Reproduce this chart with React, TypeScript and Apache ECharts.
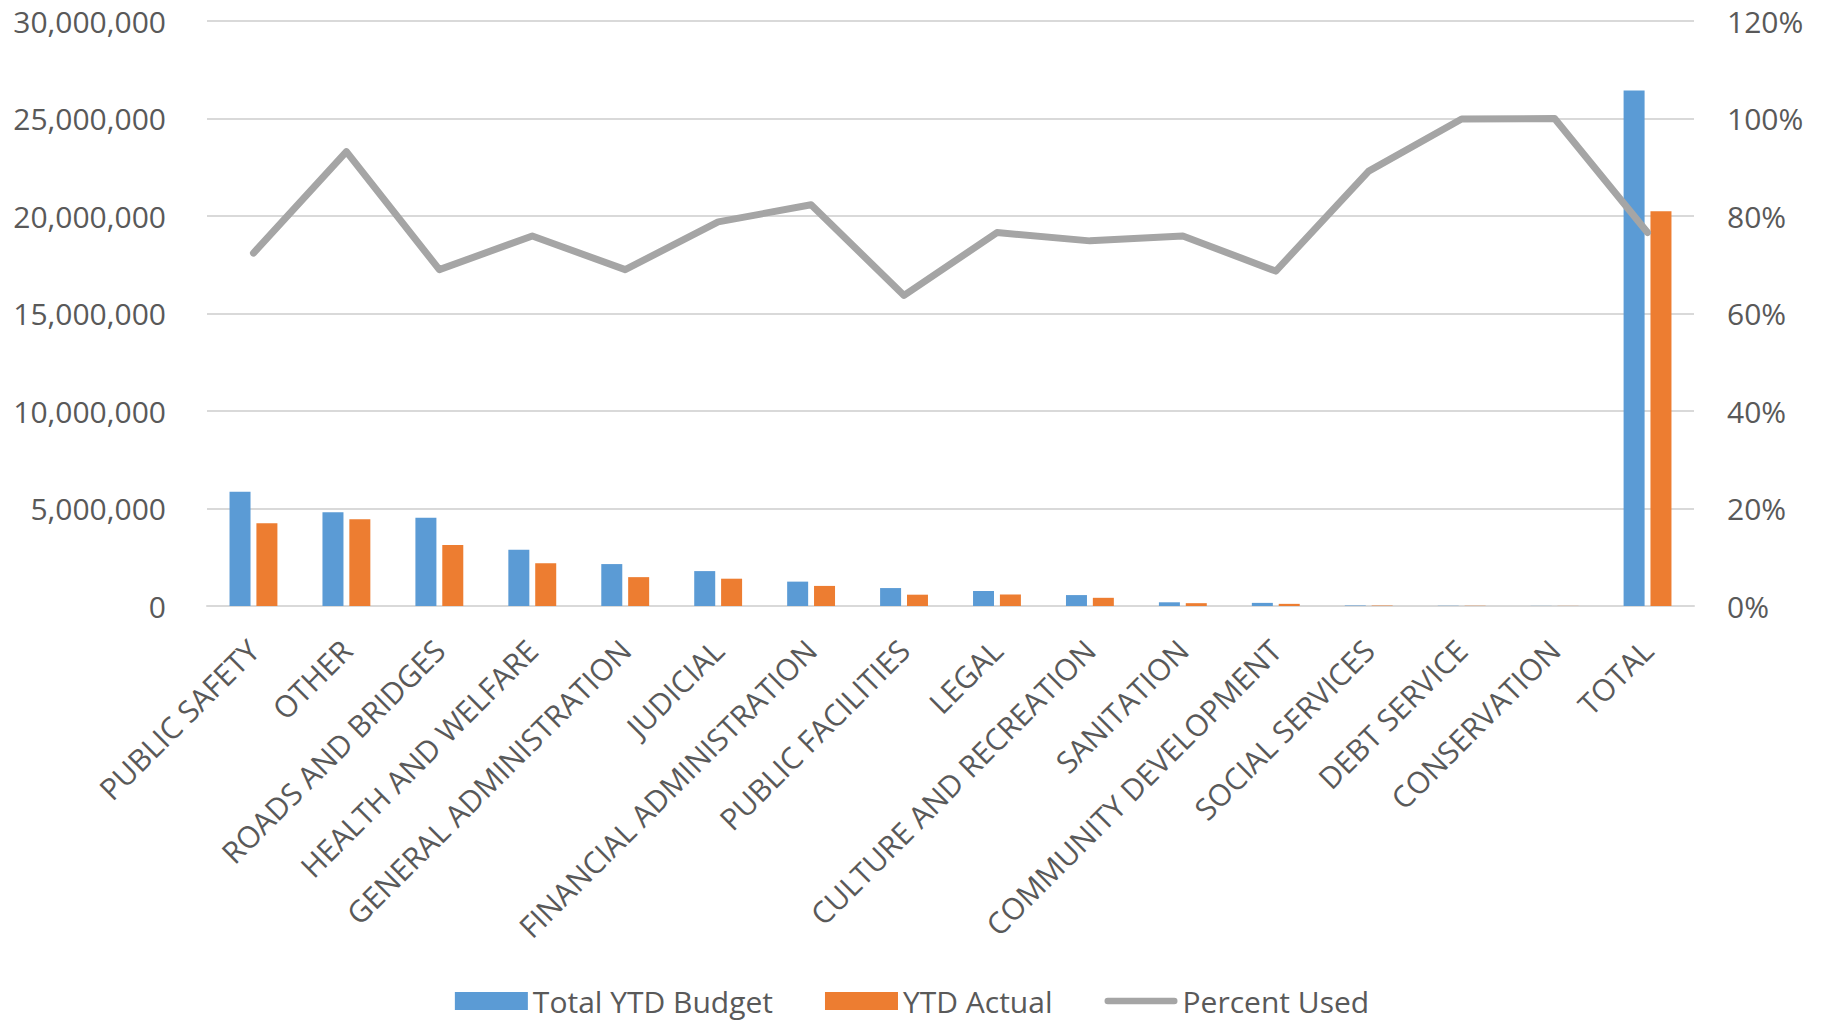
import React, { useEffect, useRef } from "react";
import * as echarts from "echarts";

const categories = [
  "PUBLIC SAFETY",
  "OTHER",
  "ROADS AND BRIDGES",
  "HEALTH AND WELFARE",
  "GENERAL ADMINISTRATION",
  "JUDICIAL",
  "FINANCIAL ADMINISTRATION",
  "PUBLIC FACILITIES",
  "LEGAL",
  "CULTURE AND RECREATION",
  "SANITATION",
  "COMMUNITY DEVELOPMENT",
  "SOCIAL SERVICES",
  "DEBT SERVICE",
  "CONSERVATION",
  "TOTAL",
];

const totalYtdBudget = [
  5860000, 4810000, 4530000, 2880000, 2150000, 1790000, 1250000, 920000,
  770000, 560000, 190000, 160000, 25000, 12000, 6000, 26430000,
];

const ytdActual = [
  4240000, 4450000, 3130000, 2190000, 1480000, 1400000, 1030000, 580000,
  590000, 420000, 145000, 110000, 22300, 12000, 6000, 20240000,
];

const percentUsed = [
  0.724, 0.932, 0.69, 0.759, 0.69, 0.788, 0.823, 0.637, 0.766, 0.749, 0.759,
  0.687, 0.892, 0.999, 1.0, 0.766,
];

const seriesNames = ["Total YTD Budget", "YTD Actual", "Percent Used"];

const FONT = "'Open Sans', 'Noto Sans', sans-serif";
const TEXT = "#595959";
const GRID = "#D9D9D9";
const LINE_ICON =
  "path://M3.5,0 H75.5 A3.5,3.5 0 0 1 75.5,7 H3.5 A3.5,3.5 0 0 1 3.5,0 Z";

export default function App() {
  const ref = useRef<HTMLDivElement>(null);

  useEffect(() => {
    if (!ref.current) return;
    const chart = echarts.init(ref.current, undefined, { renderer: "svg" });
    chart.setOption({
      animation: false,
      backgroundColor: "#ffffff",
      textStyle: { fontFamily: FONT },
      grid: { left: 207, right: 130, top: 21, bottom: 414, containLabel: false },
      legend: {
        data: [
          { name: seriesNames[0], icon: "rect" },
          { name: seriesNames[1], icon: "rect" },
          { name: seriesNames[2], icon: LINE_ICON },
        ],
        left: "center",
        top: 985,
        padding: 0,
        itemWidth: 73,
        itemHeight: 18,
        itemGap: 52,
        symbolKeepAspect: true,
        textStyle: { fontFamily: FONT, fontSize: 30, color: TEXT, lineHeight: 32 },
      },
      xAxis: {
        type: "category",
        data: categories,
        axisTick: { show: false },
        axisLine: { lineStyle: { color: GRID, width: 2 } },
        axisLabel: {
          interval: 0,
          rotate: 45,
          margin: 39,
          fontFamily: FONT,
          fontSize: 30,
          color: TEXT,
        },
      },
      yAxis: [
        {
          type: "value",
          min: 0,
          max: 30000000,
          interval: 5000000,
          axisLine: { show: false },
          axisTick: { show: false },
          splitLine: { lineStyle: { color: GRID, width: 2 } },
          axisLabel: {
            margin: 41,
            fontFamily: FONT,
            fontSize: 30,
            color: TEXT,
            formatter: (v: number) => v.toLocaleString("en-US"),
          },
        },
        {
          type: "value",
          min: 0,
          max: 1.2,
          interval: 0.2,
          axisLine: { show: false },
          axisTick: { show: false },
          splitLine: { show: false },
          axisLabel: {
            margin: 33,
            fontFamily: FONT,
            fontSize: 30,
            color: TEXT,
            formatter: (v: number) => Math.round(v * 100) + "%",
          },
        },
      ],
      series: [
        {
          name: seriesNames[0],
          type: "bar",
          data: totalYtdBudget,
          barWidth: 21,
          barGap: "28%",
          itemStyle: { color: "#5B9BD5" },
        },
        {
          name: seriesNames[1],
          type: "bar",
          data: ytdActual,
          barWidth: 21,
          barGap: "28%",
          itemStyle: { color: "#ED7D31" },
        },
        {
          name: seriesNames[2],
          type: "line",
          yAxisIndex: 1,
          data: percentUsed,
          symbol: "none",
          z: 5,
          lineStyle: { color: "#A5A5A5", width: 7, cap: "round", join: "round" },
          itemStyle: { color: "#A5A5A5" },
        },
      ],
    });
    return () => chart.dispose();
  }, []);

  return (
    <div
      ref={ref}
      style={{ position: "fixed", left: 0, top: 0, width: 1824, height: 1020 }}
    />
  );
}
